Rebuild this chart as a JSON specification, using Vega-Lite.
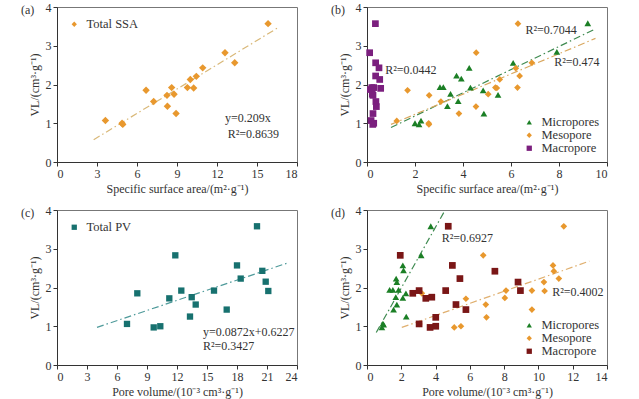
{
  "$schema": "https://vega.github.io/schema/vega-lite/v6.json",
  "background": "white",
  "padding": {"left": 20, "top": 0, "right": 5, "bottom": 5},
  "spacing": 8,
  "config": {
    "font": "Liberation Serif",
    "view": {"stroke": "#777", "strokeWidth": 1},
    "axis": {"grid": false, "domainColor": "#333", "tickColor": "#333", "tickSize": 4, "labelFont": "Liberation Serif", "labelFontSize": 12, "labelColor": "#333", "titleFont": "Liberation Serif", "titleFontSize": 12, "titleFontWeight": "normal", "titleColor": "#333", "labelOverlap": false},
    "legend": {"labelFont": "Liberation Serif", "labelFontSize": 12.5, "labelColor": "#333", "title": null, "symbolStrokeWidth": 0, "symbolSize": 28, "rowPadding": -2, "labelOffset": 6},
    "title": {"font": "Liberation Serif", "fontSize": 12, "fontWeight": "normal", "color": "#333", "anchor": "start", "frame": "group", "baseline": "middle", "offset": -16, "dx": -36}
  },
  "datasets": {
    "a": [
      {"x": 3.63, "y": 1.07}, {"x": 4.88, "y": 1.0}, {"x": 4.93, "y": 0.97}, {"x": 6.68, "y": 1.85},
      {"x": 7.25, "y": 1.56}, {"x": 8.25, "y": 1.72}, {"x": 8.28, "y": 1.44}, {"x": 8.6, "y": 1.92},
      {"x": 8.78, "y": 1.75}, {"x": 8.93, "y": 1.25}, {"x": 9.78, "y": 1.92}, {"x": 10.0, "y": 2.13},
      {"x": 10.25, "y": 1.91}, {"x": 10.45, "y": 2.21}, {"x": 10.93, "y": 2.43}, {"x": 12.6, "y": 2.82},
      {"x": 13.33, "y": 2.56}, {"x": 15.83, "y": 3.57}
    ],
    "a_fit": [{"x": 2.75, "y": 0.575}, {"x": 16.5, "y": 3.45}],
    "a_txt": [{"x": 12.6, "y": 1.14, "t": "y=0.209x"}, {"x": 12.8, "y": 0.71, "t": "R²=0.8639"}],
    "c": [
      {"x": 7.0, "y": 1.06}, {"x": 8.03, "y": 1.85}, {"x": 9.67, "y": 0.97}, {"x": 10.33, "y": 1.0},
      {"x": 11.23, "y": 1.72}, {"x": 11.83, "y": 2.83}, {"x": 12.43, "y": 1.92}, {"x": 13.3, "y": 1.25},
      {"x": 13.47, "y": 1.75}, {"x": 13.87, "y": 1.56}, {"x": 15.7, "y": 1.92}, {"x": 16.97, "y": 1.43},
      {"x": 18.0, "y": 2.57}, {"x": 18.37, "y": 2.23}, {"x": 20.0, "y": 3.58}, {"x": 20.53, "y": 2.43},
      {"x": 20.87, "y": 2.15}, {"x": 21.13, "y": 1.91}
    ],
    "c_fit": [{"x": 4.0, "y": 0.971}, {"x": 23.0, "y": 2.628}],
    "c_txt": [{"x": 14.6, "y": 0.86, "t": "y=0.0872x+0.6227"}, {"x": 14.6, "y": 0.48, "t": "R²=0.3427"}],
    "b": [
      {"s": "Macropore", "x": 0.35, "y": 3.57}, {"s": "Macropore", "x": 0.11, "y": 2.82}, {"s": "Macropore", "x": 0.36, "y": 2.56},
      {"s": "Macropore", "x": 0.5, "y": 2.43}, {"s": "Macropore", "x": 0.36, "y": 2.22}, {"s": "Macropore", "x": 0.53, "y": 2.13},
      {"s": "Macropore", "x": 0.28, "y": 1.92}, {"s": "Macropore", "x": 0.57, "y": 1.9}, {"s": "Macropore", "x": 0.14, "y": 1.87},
      {"s": "Macropore", "x": 0.22, "y": 1.75}, {"s": "Macropore", "x": 0.25, "y": 1.72}, {"s": "Macropore", "x": 0.37, "y": 1.56},
      {"s": "Macropore", "x": 0.39, "y": 1.43}, {"s": "Macropore", "x": 0.25, "y": 1.25}, {"s": "Macropore", "x": 0.17, "y": 1.07},
      {"s": "Macropore", "x": 0.28, "y": 1.0}, {"s": "Macropore", "x": 0.24, "y": 0.97}, {"s": "Macropore", "x": 0.2, "y": 1.92},
      {"s": "Micropores", "x": 2.0, "y": 1.0}, {"s": "Micropores", "x": 2.17, "y": 0.97}, {"s": "Micropores", "x": 2.25, "y": 1.07},
      {"s": "Micropores", "x": 3.04, "y": 1.93}, {"s": "Micropores", "x": 3.18, "y": 1.93}, {"s": "Micropores", "x": 3.35, "y": 1.44},
      {"s": "Micropores", "x": 3.48, "y": 1.76}, {"s": "Micropores", "x": 3.73, "y": 2.23}, {"s": "Micropores", "x": 3.8, "y": 1.57},
      {"s": "Micropores", "x": 3.93, "y": 2.15}, {"s": "Micropores", "x": 4.26, "y": 2.43}, {"s": "Micropores", "x": 4.31, "y": 1.92},
      {"s": "Micropores", "x": 4.84, "y": 1.85}, {"s": "Micropores", "x": 4.87, "y": 1.25}, {"s": "Micropores", "x": 5.46, "y": 1.73},
      {"s": "Micropores", "x": 6.09, "y": 2.56}, {"s": "Micropores", "x": 7.91, "y": 2.84}, {"s": "Micropores", "x": 9.2, "y": 3.58},
      {"s": "Mesopore", "x": 1.24, "y": 1.06}, {"s": "Mesopore", "x": 1.69, "y": 1.85}, {"s": "Mesopore", "x": 2.59, "y": 1.72},
      {"s": "Mesopore", "x": 2.57, "y": 1.0}, {"s": "Mesopore", "x": 2.58, "y": 0.97}, {"s": "Mesopore", "x": 3.08, "y": 1.56},
      {"s": "Mesopore", "x": 3.83, "y": 1.25}, {"s": "Mesopore", "x": 4.54, "y": 1.43}, {"s": "Mesopore", "x": 4.55, "y": 2.82},
      {"s": "Mesopore", "x": 5.05, "y": 1.75}, {"s": "Mesopore", "x": 5.35, "y": 1.92}, {"s": "Mesopore", "x": 5.41, "y": 1.91},
      {"s": "Mesopore", "x": 5.53, "y": 2.13}, {"s": "Mesopore", "x": 6.2, "y": 2.42}, {"s": "Mesopore", "x": 6.27, "y": 1.92},
      {"s": "Mesopore", "x": 6.29, "y": 3.57}, {"s": "Mesopore", "x": 6.36, "y": 2.22}, {"s": "Mesopore", "x": 6.87, "y": 2.56}
    ],
    "b_fit_mi": [{"x": 1.0, "y": 0.89}, {"x": 9.47, "y": 3.42}],
    "b_fit_me": [{"x": 1.0, "y": 0.97}, {"x": 9.52, "y": 3.19}],
    "b_txt": [{"x": 6.6, "y": 3.4, "t": "R²=0.7044"}, {"x": 7.8, "y": 2.58, "t": "R²=0.474"}, {"x": 0.76, "y": 2.37, "t": "R²=0.0442"}],
    "d": [
      {"s": "Micropores", "x": 0.87, "y": 0.97}, {"s": "Micropores", "x": 0.97, "y": 1.04}, {"s": "Micropores", "x": 0.93, "y": 1.07},
      {"s": "Micropores", "x": 1.32, "y": 1.94}, {"s": "Micropores", "x": 1.51, "y": 1.94}, {"s": "Micropores", "x": 1.55, "y": 1.43},
      {"s": "Micropores", "x": 1.68, "y": 1.75}, {"s": "Micropores", "x": 1.7, "y": 2.23}, {"s": "Micropores", "x": 1.74, "y": 2.14},
      {"s": "Micropores", "x": 1.74, "y": 1.56}, {"s": "Micropores", "x": 1.84, "y": 1.94}, {"s": "Micropores", "x": 2.09, "y": 2.57},
      {"s": "Micropores", "x": 2.13, "y": 2.44}, {"s": "Micropores", "x": 2.09, "y": 1.73}, {"s": "Micropores", "x": 2.27, "y": 1.85},
      {"s": "Micropores", "x": 2.29, "y": 1.25}, {"s": "Micropores", "x": 3.16, "y": 2.83}, {"s": "Micropores", "x": 3.72, "y": 3.58},
      {"s": "Mesopore", "x": 3.2, "y": 1.85}, {"s": "Mesopore", "x": 3.05, "y": 1.06}, {"s": "Mesopore", "x": 5.09, "y": 0.97},
      {"s": "Mesopore", "x": 5.48, "y": 1.0}, {"s": "Mesopore", "x": 5.77, "y": 1.71}, {"s": "Mesopore", "x": 6.78, "y": 2.83},
      {"s": "Mesopore", "x": 6.93, "y": 1.56}, {"s": "Mesopore", "x": 6.97, "y": 1.23}, {"s": "Mesopore", "x": 8.04, "y": 1.73},
      {"s": "Mesopore", "x": 8.11, "y": 1.92}, {"s": "Mesopore", "x": 9.62, "y": 1.92}, {"s": "Mesopore", "x": 9.62, "y": 1.43},
      {"s": "Mesopore", "x": 10.32, "y": 2.14}, {"s": "Mesopore", "x": 10.36, "y": 1.91}, {"s": "Mesopore", "x": 10.85, "y": 2.57},
      {"s": "Mesopore", "x": 10.9, "y": 2.42}, {"s": "Mesopore", "x": 11.19, "y": 2.23}, {"s": "Mesopore", "x": 11.48, "y": 3.58},
      {"s": "Macropore", "x": 1.94, "y": 2.83}, {"s": "Macropore", "x": 2.67, "y": 1.85}, {"s": "Macropore", "x": 3.04, "y": 1.92},
      {"s": "Macropore", "x": 3.04, "y": 1.06}, {"s": "Macropore", "x": 3.43, "y": 1.72}, {"s": "Macropore", "x": 3.68, "y": 0.97},
      {"s": "Macropore", "x": 3.78, "y": 1.75}, {"s": "Macropore", "x": 4.01, "y": 1.23}, {"s": "Macropore", "x": 4.01, "y": 1.0},
      {"s": "Macropore", "x": 4.59, "y": 1.92}, {"s": "Macropore", "x": 4.74, "y": 3.58}, {"s": "Macropore", "x": 4.98, "y": 2.57},
      {"s": "Macropore", "x": 5.19, "y": 1.56}, {"s": "Macropore", "x": 5.42, "y": 2.23}, {"s": "Macropore", "x": 5.77, "y": 1.43},
      {"s": "Macropore", "x": 7.46, "y": 2.42}, {"s": "Macropore", "x": 8.81, "y": 2.14}, {"s": "Macropore", "x": 8.95, "y": 1.92}
    ],
    "d_fit_mi": [{"x": 0.54, "y": 0.84}, {"x": 4.51, "y": 3.96}],
    "d_fit_me": [{"x": 2.03, "y": 0.97}, {"x": 12.97, "y": 2.68}],
    "d_txt": [{"x": 4.36, "y": 3.29, "t": "R²=0.6927"}, {"x": 10.8, "y": 1.88, "t": "R²=0.4002"}]
  },
  "resolve": {"scale": {"color": "independent", "shape": "independent"}},
  "vconcat": [
    {
      "bounds": "flush",
      "spacing": 70,
      "resolve": {"scale": {"color": "independent", "shape": "independent"}},
      "hconcat": [
        {
          "width": 240, "height": 155,
          "title": {"text": "(a)"},
          "encoding": {
            "x": {"field": "x", "type": "quantitative", "scale": {"domain": [0, 18]}, "axis": {"values": [0, 3, 6, 9, 12, 15, 18], "title": "Specific surface area/(m²·g⁻¹)"}},
            "y": {"field": "y", "type": "quantitative", "scale": {"domain": [0, 4]}, "axis": {"values": [0, 1, 2, 3, 4], "title": "VL/(cm³·g⁻¹)"}}
          },
          "layer": [
            {
              "data": {"name": "a_fit"},
              "mark": {"type": "line", "color": "#D9B878", "strokeWidth": 1.2, "strokeDash": [7, 3, 1.5, 3]}
            },
            {
              "data": {"name": "a"},
              "transform": [{"calculate": "'Total SSA'", "as": "s"}],
              "mark": {"type": "point", "filled": true, "opacity": 1, "size": 55},
              "encoding": {
                "color": {"field": "s", "type": "nominal", "scale": {"range": ["#E8982E"]}, "legend": {"orient": "top-left", "offset": 11}},
                "shape": {"field": "s", "type": "nominal", "scale": {"range": ["diamond"]}}
              }
            },
            {
              "data": {"name": "a_txt"},
              "mark": {"type": "text", "align": "left", "baseline": "middle", "fontSize": 12, "color": "#333", "font": "Liberation Serif"},
              "encoding": {"text": {"field": "t"}}
            }
          ]
        },
        {
          "width": 240, "height": 155,
          "title": {"text": "(b)"},
          "encoding": {
            "x": {"field": "x", "type": "quantitative", "scale": {"domain": [0, 10]}, "axis": {"values": [0, 2, 4, 6, 8, 10], "title": "Specific surface area/(m²·g⁻¹)"}},
            "y": {"field": "y", "type": "quantitative", "scale": {"domain": [0, 4]}, "axis": {"values": [0, 1, 2, 3, 4], "title": "VL/(cm³·g⁻¹)"}}
          },
          "layer": [
            {
              "data": {"name": "b_fit_mi"},
              "mark": {"type": "line", "color": "#3E8A50", "strokeWidth": 1.2, "strokeDash": [7, 3, 1.5, 3]}
            },
            {
              "data": {"name": "b_fit_me"},
              "mark": {"type": "line", "color": "#D9A860", "strokeWidth": 1.2, "strokeDash": [7, 3, 1.5, 3]}
            },
            {
              "data": {"name": "b"},
              "mark": {"type": "point", "filled": true, "opacity": 1, "size": 45},
              "encoding": {
                "color": {"field": "s", "type": "nominal", "scale": {"domain": ["Micropores", "Mesopore", "Macropore"], "range": ["#1B7F25", "#E8982E", "#7B1F7E"]}, "legend": {"orient": "bottom-right", "offset": 7}},
                "shape": {"field": "s", "type": "nominal", "scale": {"domain": ["Micropores", "Mesopore", "Macropore"], "range": ["triangle-up", "diamond", "square"]}}
              }
            },
            {
              "data": {"name": "b_txt"},
              "mark": {"type": "text", "align": "left", "baseline": "middle", "fontSize": 12, "color": "#333", "font": "Liberation Serif"},
              "encoding": {"text": {"field": "t"}}
            }
          ]
        }
      ]
    },
    {
      "bounds": "flush",
      "spacing": 70,
      "resolve": {"scale": {"color": "independent", "shape": "independent"}},
      "hconcat": [
        {
          "width": 240, "height": 155,
          "title": {"text": "(c)"},
          "encoding": {
            "x": {"field": "x", "type": "quantitative", "scale": {"domain": [0, 24]}, "axis": {"values": [0, 3, 6, 9, 12, 15, 18, 21, 24], "title": "Pore volume/(10⁻³ cm³·g⁻¹)"}},
            "y": {"field": "y", "type": "quantitative", "scale": {"domain": [0, 4]}, "axis": {"values": [0, 1, 2, 3, 4], "title": "VL/(cm³·g⁻¹)"}}
          },
          "layer": [
            {
              "data": {"name": "c_fit"},
              "mark": {"type": "line", "color": "#4E9A9A", "strokeWidth": 1.2, "strokeDash": [7, 3, 1.5, 3]}
            },
            {
              "data": {"name": "c"},
              "transform": [{"calculate": "'Total PV'", "as": "s"}],
              "mark": {"type": "point", "filled": true, "opacity": 1, "size": 40},
              "encoding": {
                "color": {"field": "s", "type": "nominal", "scale": {"range": ["#17716F"]}, "legend": {"orient": "top-left", "offset": 11}},
                "shape": {"field": "s", "type": "nominal", "scale": {"range": ["square"]}}
              }
            },
            {
              "data": {"name": "c_txt"},
              "mark": {"type": "text", "align": "left", "baseline": "middle", "fontSize": 12, "color": "#333", "font": "Liberation Serif"},
              "encoding": {"text": {"field": "t"}}
            }
          ]
        },
        {
          "width": 240, "height": 155,
          "title": {"text": "(d)"},
          "encoding": {
            "x": {"field": "x", "type": "quantitative", "scale": {"domain": [0, 14]}, "axis": {"values": [0, 2, 4, 6, 8, 10, 12, 14], "title": "Pore volume/(10⁻³ cm³·g⁻¹)"}},
            "y": {"field": "y", "type": "quantitative", "scale": {"domain": [0, 4]}, "axis": {"values": [0, 1, 2, 3, 4], "title": "VL/(cm³·g⁻¹)"}}
          },
          "layer": [
            {
              "data": {"name": "d_fit_mi"},
              "mark": {"type": "line", "color": "#3E8A50", "strokeWidth": 1.2, "strokeDash": [7, 3, 1.5, 3], "clip": true}
            },
            {
              "data": {"name": "d_fit_me"},
              "mark": {"type": "line", "color": "#E0B070", "strokeWidth": 1.2, "strokeDash": [7, 3, 1.5, 3]}
            },
            {
              "data": {"name": "d"},
              "mark": {"type": "point", "filled": true, "opacity": 1, "size": 45},
              "encoding": {
                "color": {"field": "s", "type": "nominal", "scale": {"domain": ["Micropores", "Mesopore", "Macropore"], "range": ["#1B7F25", "#E8982E", "#7A1616"]}, "legend": {"orient": "bottom-right", "offset": 7}},
                "shape": {"field": "s", "type": "nominal", "scale": {"domain": ["Micropores", "Mesopore", "Macropore"], "range": ["triangle-up", "diamond", "square"]}}
              }
            },
            {
              "data": {"name": "d_txt"},
              "mark": {"type": "text", "align": "left", "baseline": "middle", "fontSize": 12, "color": "#333", "font": "Liberation Serif"},
              "encoding": {"text": {"field": "t"}}
            }
          ]
        }
      ]
    }
  ]
}
